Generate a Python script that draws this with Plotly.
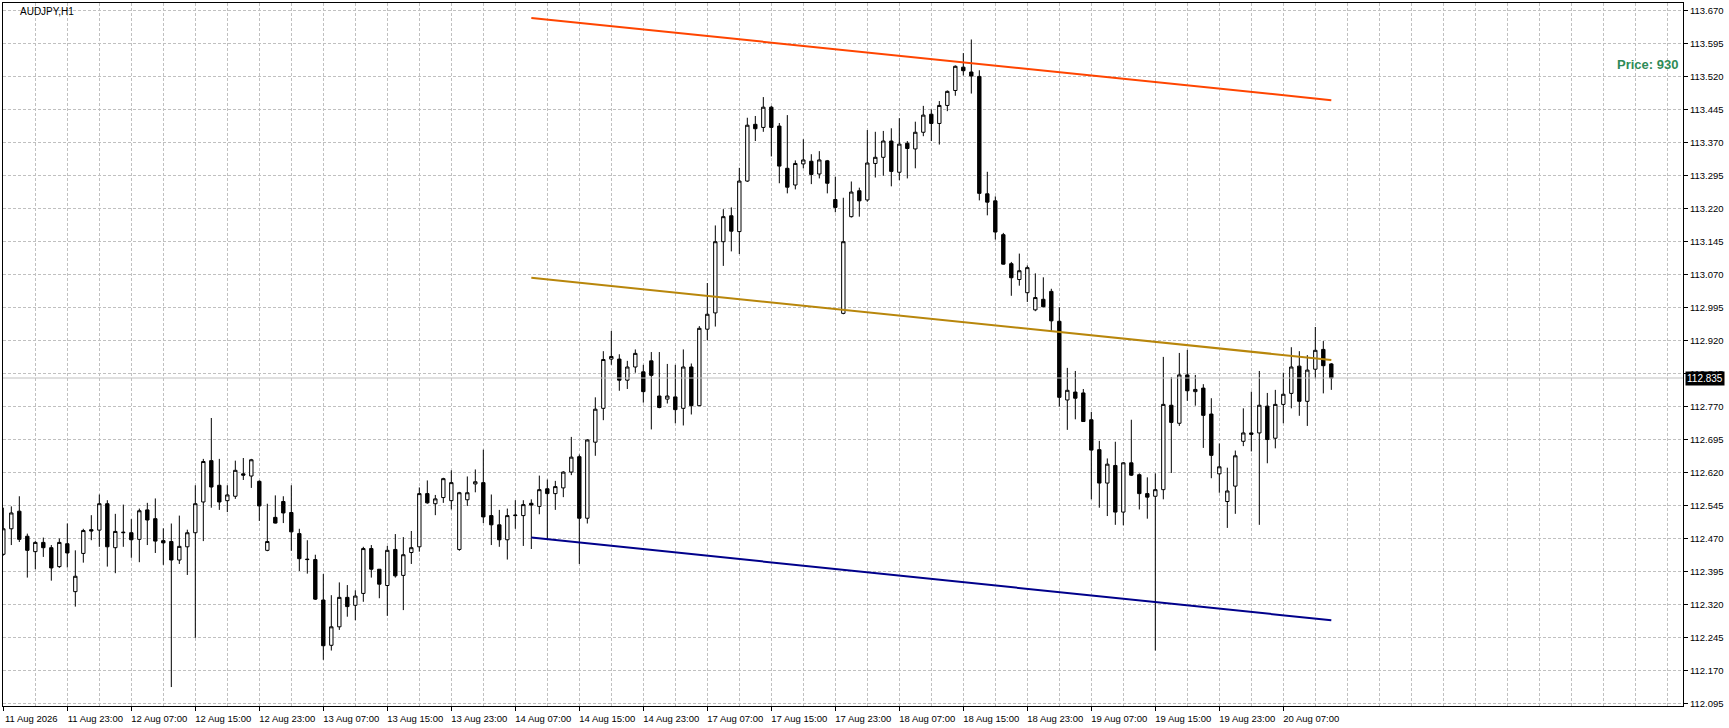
import plotly.graph_objects as go

# AUDJPY H1 bars (bar index 0 = first bar on the chart)
opens = [112.434, 112.492, 112.532, 112.475, 112.440, 112.461, 112.449, 112.406, 112.458, 112.349,
         112.436, 112.490, 112.489, 112.549, 112.449, 112.483, 112.483, 112.468, 112.535, 112.515,
         112.465, 112.463, 112.421, 112.451, 112.483, 112.553, 112.647, 112.591, 112.556, 112.566,
         112.617, 112.612, 112.600, 112.443, 112.518, 112.554, 112.529, 112.481, 112.423, 112.422,
         112.330, 112.227, 112.269, 112.336, 112.318, 112.345, 112.447, 112.400, 112.363, 112.445,
         112.386, 112.438, 112.451, 112.572, 112.549, 112.563, 112.556, 112.445, 112.558, 112.594,
         112.597, 112.522, 112.501, 112.467, 112.522, 112.522, 112.550, 112.543, 112.583, 112.572,
         112.585, 112.621, 112.656, 112.516, 112.689, 112.766, 112.878, 112.878, 112.830, 112.860,
         112.849, 112.874, 112.794, 112.787, 112.792, 112.766, 112.860, 112.772, 112.946, 112.983,
         113.145, 113.204, 113.168, 113.283, 113.412, 113.405, 113.451, 113.408, 113.312, 113.274,
         113.322, 113.328, 113.299, 113.329, 113.241, 112.982, 113.202, 113.261, 113.240, 113.323,
         113.337, 113.374, 113.303, 113.369, 113.356, 113.394, 113.435, 113.414, 113.455, 113.489,
         113.542, 113.531, 113.521, 113.254, 113.238, 113.161, 113.095, 113.059, 113.029, 112.990,
         113.014, 113.032, 112.964, 112.785, 112.803, 112.801, 112.740, 112.672, 112.596, 112.636,
         112.530, 112.642, 112.615, 112.572, 112.566, 112.581, 112.773, 112.732, 112.842, 112.804,
         112.812, 112.753, 112.617, 112.554, 112.589, 112.691, 112.710, 112.710, 112.771, 112.698,
         112.775, 112.800, 112.862, 112.782, 112.855, 112.900, 112.867]
highs = [112.540, 112.543, 112.566, 112.481, 112.464, 112.472, 112.455, 112.470, 112.504, 112.443,
         112.492, 112.523, 112.570, 112.557, 112.526, 112.547, 112.514, 112.538, 112.551, 112.561,
         112.493, 112.504, 112.522, 112.490, 112.591, 112.651, 112.744, 112.651, 112.591, 112.647,
         112.653, 112.651, 112.602, 112.549, 112.568, 112.566, 112.591, 112.492, 112.466, 112.433,
         112.389, 112.341, 112.370, 112.364, 112.352, 112.451, 112.455, 112.400, 112.453, 112.480,
         112.473, 112.487, 112.586, 112.602, 112.569, 112.608, 112.625, 112.576, 112.611, 112.627,
         112.672, 112.570, 112.535, 112.538, 112.557, 112.557, 112.559, 112.613, 112.604, 112.601,
         112.623, 112.701, 112.661, 112.696, 112.791, 112.896, 112.942, 112.889, 112.874, 112.900,
         112.865, 112.894, 112.894, 112.867, 112.865, 112.900, 112.868, 112.953, 113.051, 113.182,
         113.219, 113.223, 113.313, 113.427, 113.431, 113.474, 113.454, 113.415, 113.433, 113.330,
         113.378, 113.344, 113.351, 113.331, 113.293, 113.245, 113.282, 113.268, 113.399, 113.395,
         113.397, 113.403, 113.426, 113.374, 113.418, 113.454, 113.446, 113.465, 113.489, 113.546,
         113.574, 113.605, 113.535, 113.304, 113.248, 113.165, 113.099, 113.118, 113.091, 113.073,
         113.064, 113.038, 112.996, 112.858, 112.851, 112.810, 112.758, 112.692, 112.652, 112.690,
         112.644, 112.740, 112.618, 112.609, 112.618, 112.883, 112.837, 112.892, 112.899, 112.842,
         112.821, 112.789, 112.686, 112.631, 112.670, 112.766, 112.804, 112.851, 112.801, 112.808,
         112.847, 112.905, 112.896, 112.887, 112.951, 112.919, 112.869]
lows = [112.431, 112.455, 112.462, 112.381, 112.400, 112.428, 112.374, 112.403, 112.404, 112.315,
        112.415, 112.466, 112.451, 112.406, 112.391, 112.451, 112.426, 112.416, 112.455, 112.437,
        112.410, 112.132, 112.412, 112.387, 112.244, 112.464, 112.540, 112.535, 112.530, 112.560,
        112.603, 112.585, 112.510, 112.441, 112.504, 112.505, 112.442, 112.396, 112.390, 112.330,
        112.194, 112.215, 112.262, 112.292, 112.284, 112.326, 112.381, 112.334, 112.294, 112.381,
        112.307, 112.412, 112.440, 112.549, 112.523, 112.551, 112.536, 112.442, 112.544, 112.575,
        112.505, 112.455, 112.451, 112.422, 112.492, 112.453, 112.446, 112.525, 112.467, 112.535,
        112.564, 112.614, 112.412, 112.504, 112.658, 112.739, 112.865, 112.806, 112.810, 112.847,
        112.779, 112.718, 112.766, 112.777, 112.732, 112.727, 112.752, 112.771, 112.921, 112.952,
        113.090, 113.123, 113.117, 113.281, 113.374, 113.395, 113.339, 113.278, 113.255, 113.264,
        113.312, 113.276, 113.289, 113.255, 113.212, 112.980, 113.200, 113.202, 113.236, 113.291,
        113.295, 113.271, 113.285, 113.289, 113.312, 113.385, 113.374, 113.366, 113.442, 113.477,
        113.523, 113.482, 113.239, 113.205, 113.150, 113.093, 113.022, 113.045, 113.008, 112.987,
        112.996, 112.940, 112.770, 112.717, 112.741, 112.735, 112.559, 112.540, 112.521, 112.501,
        112.500, 112.612, 112.536, 112.515, 112.215, 112.559, 112.619, 112.726, 112.783, 112.772,
        112.676, 112.607, 112.574, 112.494, 112.526, 112.680, 112.668, 112.501, 112.641, 112.675,
        112.732, 112.766, 112.749, 112.726, 112.834, 112.800, 112.808]
closes = [112.492, 112.528, 112.468, 112.443, 112.461, 112.449, 112.403, 112.461, 112.437, 112.384,
          112.488, 112.487, 112.549, 112.451, 112.486, 112.484, 112.467, 112.533, 112.512, 112.464,
          112.460, 112.421, 112.452, 112.483, 112.549, 112.645, 112.587, 112.553, 112.569, 112.625,
          112.614, 112.649, 112.544, 112.463, 112.505, 112.528, 112.485, 112.424, 112.422, 112.332,
          112.226, 112.269, 112.336, 112.315, 112.339, 112.447, 112.400, 112.366, 112.443, 112.385,
          112.433, 112.449, 112.572, 112.551, 112.560, 112.606, 112.597, 112.574, 112.574, 112.599,
          112.519, 112.501, 112.467, 112.522, 112.523, 112.547, 112.546, 112.581, 112.572, 112.588,
          112.621, 112.655, 112.516, 112.694, 112.764, 112.877, 112.884, 112.830, 112.860, 112.891,
          112.804, 112.841, 112.768, 112.794, 112.763, 112.860, 112.772, 112.948, 112.980, 113.145,
          113.202, 113.169, 113.283, 113.410, 113.402, 113.451, 113.405, 113.317, 113.269, 113.323,
          113.331, 113.298, 113.331, 113.278, 113.223, 113.145, 113.258, 113.238, 113.324, 113.337,
          113.374, 113.305, 113.367, 113.357, 113.394, 113.433, 113.414, 113.455, 113.487, 113.544,
          113.534, 113.522, 113.255, 113.235, 113.167, 113.094, 113.063, 113.079, 113.086, 113.018,
          112.997, 112.965, 112.791, 112.807, 112.789, 112.736, 112.671, 112.596, 112.639, 112.530,
          112.642, 112.614, 112.572, 112.564, 112.581, 112.775, 112.734, 112.842, 112.806, 112.809,
          112.750, 112.659, 112.633, 112.578, 112.658, 112.710, 112.707, 112.773, 112.695, 112.775,
          112.798, 112.860, 112.782, 112.853, 112.898, 112.863, 112.835]

# time axis labels (one every 8 bars)
time_pos = [0, 8, 16, 24, 32, 40, 48, 56, 64, 72, 80, 88, 96, 104, 112, 120, 128, 136, 144, 152, 160]
time_labels = ["11 Aug 2026", "11 Aug 23:00", "12 Aug 07:00", "12 Aug 15:00", "12 Aug 23:00",
               "13 Aug 07:00", "13 Aug 15:00", "13 Aug 23:00", "14 Aug 07:00", "14 Aug 15:00",
               "14 Aug 23:00", "17 Aug 07:00", "17 Aug 15:00", "17 Aug 23:00", "18 Aug 07:00",
               "18 Aug 15:00", "18 Aug 23:00", "19 Aug 07:00", "19 Aug 15:00", "19 Aug 23:00",
               "20 Aug 07:00"]

# price axis labels
price_ticks = [112.095, 112.170, 112.245, 112.320, 112.395, 112.470, 112.545, 112.620, 112.695,
               112.770, 112.845, 112.920, 112.995, 113.070, 113.145, 113.220, 113.295, 113.370,
               113.445, 113.520, 113.595, 113.670]

# regression channel (start bar, end bar)
channel_x = [66, 166]
channel_top = [113.654, 113.467]
channel_mid = [113.063, 112.876]
channel_bot = [112.472, 112.284]

last_price = 112.835

bars = list(range(len(opens)))
grid = "#c0c0c0"
axis_font = dict(family="Liberation Sans, Arial, sans-serif", size=9.5, color="black")

fig = go.Figure()

fig.add_trace(go.Scatter(x=[-1, 211], y=[last_price, last_price], mode="lines",
                         line=dict(color="#c0c0c0", width=1), hoverinfo="skip"))

fig.add_trace(go.Candlestick(
    x=bars, open=opens, high=highs, low=lows, close=closes,
    increasing=dict(line=dict(color="black", width=1), fillcolor="white"),
    decreasing=dict(line=dict(color="black", width=1), fillcolor="black"),
    whiskerwidth=0,
))

for vals, col in [(channel_top, "#ff4500"), (channel_mid, "#b8860b"), (channel_bot, "#00008b")]:
    fig.add_trace(go.Scatter(x=channel_x, y=vals, mode="lines",
                             line=dict(color=col, width=2), hoverinfo="skip"))

fig.update_layout(
    width=1729, height=728,
    margin=dict(l=3, r=46, t=3, b=22),
    paper_bgcolor="white", plot_bgcolor="white",
    showlegend=False,
    boxgap=0.4,
    xaxis=dict(
        range=[-0.04, 209.96],
        rangeslider=dict(visible=False),
        tickmode="array", tickvals=time_pos, ticktext=time_labels,
        ticks="outside", ticklen=4, tickcolor="black",
        ticklabelshift=28, ticklabelstandoff=0,
        tickfont=axis_font,
        showgrid=True, gridcolor=grid, griddash="3px,2px", gridwidth=1,
        minor=dict(dtick=4, tick0=0, showgrid=True, gridcolor=grid, griddash="3px,2px", ticks=""),
        showline=True, linecolor="black", linewidth=1, mirror=True,
        zeroline=False,
    ),
    yaxis=dict(
        side="right",
        range=[112.0889, 113.688],
        tickmode="array", tickvals=price_ticks,
        ticktext=[f"{v:.3f}" for v in price_ticks],
        ticks="outside", ticklen=4, tickcolor="black",
        tickfont=axis_font,
        showgrid=True, gridcolor=grid, griddash="3px,2px", gridwidth=1,
        showline=True, linecolor="black", linewidth=1, mirror=True,
        zeroline=False,
    ),
    annotations=[
        dict(text="AUDJPY,H1", xref="paper", yref="paper", x=0.009, y=0.988,
             xanchor="left", yanchor="middle", showarrow=False,
             font=dict(family="Liberation Sans, Arial, sans-serif", size=10, color="black")),
        dict(text="<b>Price: 930</b>", xref="paper", yref="y", x=0.9985, y=113.549,
             xanchor="right", yanchor="middle", showarrow=False,
             font=dict(family="Liberation Sans, Arial, sans-serif", size=13, color="#2e8b57")),
        dict(text=f"{last_price:.3f}", xref="paper", yref="y", x=1.0012, y=last_price,
             xanchor="left", yanchor="middle", showarrow=False, bgcolor="black",
             borderpad=1, font=dict(family="Liberation Sans, Arial, sans-serif", size=10, color="white")),
    ],
)

fig.write_html("out.html", config={"displayModeBar": False},
               post_script="document.body.style.margin='0';document.body.style.overflow='hidden';")
